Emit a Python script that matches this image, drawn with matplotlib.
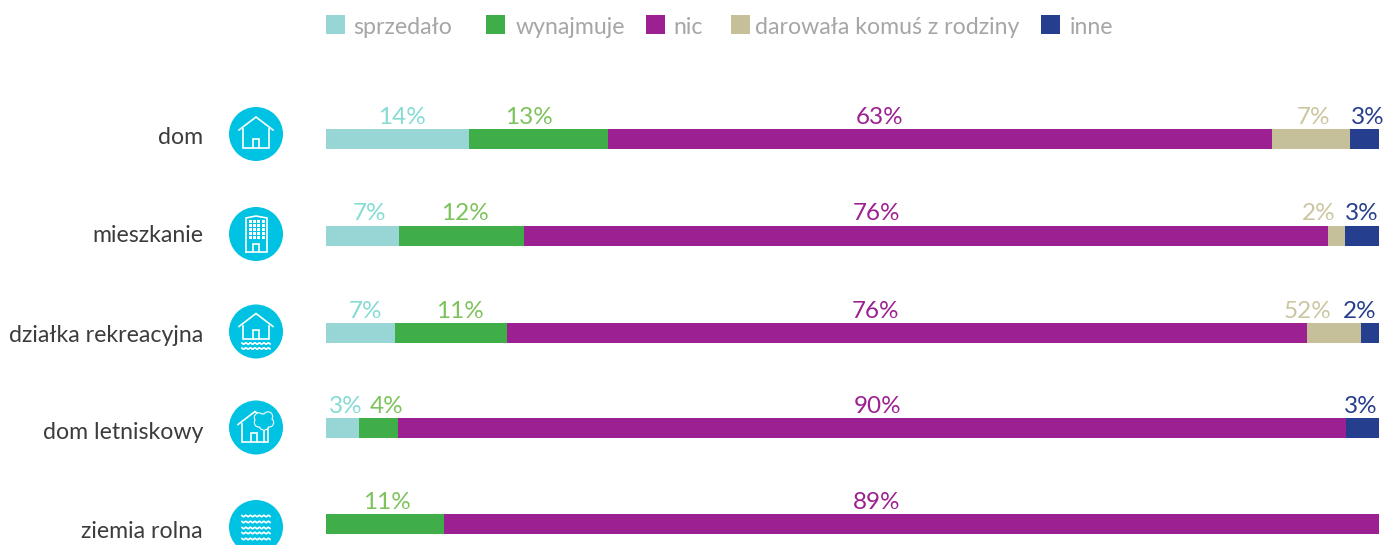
# -*- coding: utf-8 -*-
import numpy as np
import matplotlib
matplotlib.use("Agg")
import matplotlib.pyplot as plt
from matplotlib.patches import Circle, Rectangle

plt.rcParams['font.family'] = ['Lato', 'DejaVu Sans']

# ============================
# dane
# ============================
categories = ['dom', 'mieszkanie', 'działka rekreacyjna', 'dom letniskowy', 'ziemia rolna']
series_names = ['sprzedało', 'wynajmuje', 'nic', 'darowała komuś z rodziny', 'inne']

sprzedalo = [13.6, 6.9, 6.6, 3.1, 0]
wynajmuje = [13.2, 11.9, 10.6, 3.7, 11.2]
nic = [63.0, 76.4, 76.0, 90.1, 88.8]
darowala = [7.4, 1.6, 5.1, 0, 0]
inne = [2.8, 3.2, 1.7, 3.1, 0]

# podpisy na wykresie (nie zawsze zgodne z dlugoscia slupka, tak jest w oryginale)
labels_sprzedalo = ['14%', '7%', '7%', '3%', '']
labels_wynajmuje = ['13%', '12%', '11%', '4%', '11%']
labels_nic = ['63%', '76%', '76%', '90%', '89%']
labels_darowala = ['7%', '2%', '52%', '', '']
labels_inne = ['3%', '3%', '2%', '3%', '']

# ============================
# styl / uklad (piksele)
# ============================
W, H = 1393, 545
BAR_LEFT, BAR_RIGHT = 326, 1379
BAR_PX = 20
row_y = [138.5, 235.5, 332.5, 428, 524]
name_y = [137, 236, 335, 432.5, 531]

colors = ['#98d6d6', '#3fae49', '#9c2091', '#c5c09a', '#263e8e']
label_colors = ['#84dcd4', '#7cc35c', '#9c2091', '#cbc6a0', '#263e8e']
ICON = '#00c3e3'

# przesuniecie podpisu wzgledem srodka segmentu, w pikselach
offsets = [
    [4, -10, -60, 3, 3],
    [7, 4, -50, -18, 0],
    [5, 9, -32, -27, -10],
    [3, 8, 6, 0, -2],
    [0, 2, -35, 0, 0],
]
legend_x = [326, 486, 646, 731, 1041]
legend_text_x = [353, 516, 673, 755, 1070]
icon_y = [134, 234, 331.5, 427.5, 527]

fig = plt.figure(figsize=(W / 100, H / 100), dpi=100)

# ============================
# slupki
# ============================
ax = fig.add_axes([BAR_LEFT / W, 0, (BAR_RIGHT - BAR_LEFT) / W, 1])
ax.set_xlim(0, 100)
ax.set_ylim(H, 0)
ax.axis('off')

values = [sprzedalo, wynajmuje, nic, darowala, inne]
labels = [labels_sprzedalo, labels_wynajmuje, labels_nic, labels_darowala, labels_inne]
left = np.zeros(len(categories))
for s, vals in enumerate(values):
    vals = np.array(vals)
    ax.barh(row_y, vals, left=left, height=BAR_PX, color=colors[s], linewidth=0)
    for i in range(len(categories)):
        if labels[s][i]:
            ax.annotate(labels[s][i], (left[i] + vals[i] / 2, row_y[i]),
                        xytext=(offsets[i][s] * 0.72, 11 * 0.72), textcoords='offset points',
                        ha='center', va='bottom', fontsize=17.5, color=label_colors[s],
                        annotation_clip=False)
    left += vals

# ============================
# warstwa w pikselach: legenda, nazwy, ikony
# ============================
ov = fig.add_axes([0, 0, 1, 1])
ov.set_xlim(0, W)
ov.set_ylim(H, 0)
ov.axis('off')
ov.patch.set_alpha(0)

for s, name in enumerate(series_names):
    ov.add_patch(Rectangle((legend_x[s], 15), 19, 19, color=colors[s], lw=0))
    ov.text(legend_text_x[s], 27.5, name, color='#a6a6a6', fontsize=16.7, va='center', ha='left')

for i, cat in enumerate(categories):
    ov.text(203, name_y[i], cat, color='#3c3c3c', fontsize=16.7, ha='right', va='center')


def line(cx, cy, xs, ys, lw=1.2, zorder=2):
    ov.plot(cx + np.array(xs), cy + np.array(ys), color='white', lw=lw,
            solid_joinstyle='miter', zorder=zorder)


def house(cx, cy, roof_y, wall_bottom, door_x=0):
    line(cx, cy, [-17, 0, 17], [roof_y, roof_y - 13, roof_y])
    line(cx, cy, [-13, -13, 13, 13], [roof_y - 1, wall_bottom, wall_bottom, roof_y - 1])
    line(cx, cy, [door_x - 3, door_x - 3, door_x + 3, door_x + 3],
         [wall_bottom, wall_bottom - 9, wall_bottom - 9, wall_bottom])


def waves(cx, cy, rows, half=14):
    xs = np.linspace(-half, half, 60)
    for r in rows:
        line(cx, cy, xs, r + 0.7 * np.sin(xs * 1.4))


for cy in icon_y:
    ov.add_patch(Circle((256, cy), 27, color=ICON, lw=0))

# dom
house(256, icon_y[0], -4, 14)

# mieszkanie
cx, cy = 256, icon_y[1]
line(cx, cy, [-10, -10, 0, 11, 11, -10], [18, -16, -18, -16, 18, 18])
for gx in [-6, -1.7, 2.6, 7]:
    for gy in [-13, -9, -5, -1, 3]:
        ov.add_patch(Rectangle((cx + gx - 1.5, cy + gy - 1.5), 3, 3, color='white', lw=0))
line(cx, cy, [-3, -3, 3, 3], [18, 10, 10, 18])

# dzialka rekreacyjna
house(256, icon_y[2], -5, 7)
waves(256, icon_y[2], [12, 17])

# dom letniskowy: korona drzewa przykrywa dach
cx, cy = 256, icon_y[3]
house(cx - 1, cy, -3, 14, door_x=-1)
lobes = [(3, -10, 4.5), (12, -11, 4.5), (3, -5, 4.5), (13, -5, 4.5), (8, -2, 4.5), (8, -7, 6.5)]
for dx, dy, r in lobes:
    ov.add_patch(Circle((cx + dx, cy + dy), r + 0.7, color='white', lw=0, zorder=3))
for dx, dy, r in lobes:
    ov.add_patch(Circle((cx + dx, cy + dy), r - 0.4, color=ICON, lw=0, zorder=4))
line(cx, cy, [8, 8], [3.2, 14], zorder=5)

# ziemia rolna
waves(256, icon_y[4], [-11, -5, 1, 6, 12])

fig.savefig('out.png', dpi=100)
